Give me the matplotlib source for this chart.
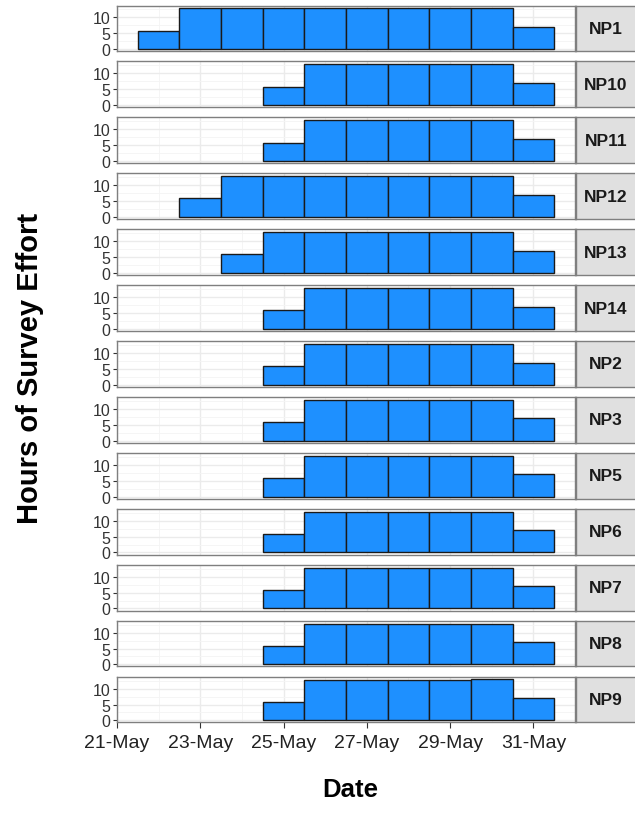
import matplotlib
matplotlib.use("Agg")
import matplotlib.pyplot as plt
from matplotlib.ticker import MultipleLocator

plt.rcParams['font.family'] = ['Liberation Sans', 'DejaVu Sans']

# Day of month (May) for each bar
days = [22, 23, 24, 25, 26, 27, 28, 29, 30, 31]
tick_days = [21, 23, 25, 27, 29, 31]
tick_labels = ["21-May", "23-May", "25-May", "27-May", "29-May", "31-May"]

sites = ["NP1", "NP10", "NP11", "NP12", "NP13", "NP14", "NP2", "NP3",
         "NP5", "NP6", "NP7", "NP8", "NP9"]

# Hours of survey effort per day (0 = no survey)
NP1 = [5.8, 12.8, 12.8, 12.8, 12.8, 12.8, 12.8, 12.8, 12.8, 7.0]
NP10 = [0, 0, 0, 5.8, 12.8, 12.8, 12.8, 12.8, 12.8, 7.0]
NP11 = [0, 0, 0, 5.8, 12.8, 12.8, 12.8, 12.8, 12.8, 7.0]
NP12 = [0, 5.8, 12.8, 12.8, 12.8, 12.8, 12.8, 12.8, 12.8, 7.0]
NP13 = [0, 0, 5.8, 12.8, 12.8, 12.8, 12.8, 12.8, 12.8, 7.0]
NP14 = [0, 0, 0, 5.8, 12.8, 12.8, 12.9, 12.9, 12.8, 7.0]
NP2 = [0, 0, 0, 5.8, 12.8, 12.8, 12.8, 12.8, 12.8, 7.0]
NP3 = [0, 0, 0, 5.8, 12.8, 12.8, 12.9, 12.8, 12.8, 7.0]
NP5 = [0, 0, 0, 5.8, 12.8, 12.8, 12.8, 12.8, 12.8, 7.0]
NP6 = [0, 0, 0, 5.8, 12.8, 12.8, 12.8, 12.8, 12.8, 7.0]
NP7 = [0, 0, 0, 5.8, 12.8, 12.8, 12.8, 12.8, 12.95, 7.0]
NP8 = [0, 0, 0, 5.8, 12.8, 12.8, 12.8, 12.8, 12.8, 7.0]
NP9 = [0, 0, 0, 5.8, 12.8, 12.8, 12.8, 12.8, 12.95, 7.0]

values = [NP1, NP10, NP11, NP12, NP13, NP14, NP2, NP3, NP5, NP6, NP7, NP8, NP9]

W, H = 635, 829
fig = plt.figure(figsize=(W / 100, H / 100), dpi=100)

left_px, right_px = 117, 575
strip_w = 60
top_px = 6.5
pitch = 55.95
ph = 45.5

border_col = "#7f7f7f"
grid_col = "#ebebeb"

for i, (site, vals) in enumerate(zip(sites, values)):
    y0 = top_px + i * pitch
    ax = fig.add_axes([left_px / W, 1 - (y0 + ph) / H, (right_px - left_px) / W, ph / H])
    xs = [d for d, v in zip(days, vals) if v > 0]
    hs = [v for v in vals if v > 0]
    ax.bar(xs, hs, width=1.0, color="#1e90ff", edgecolor="#1a1a1a", linewidth=1.0, zorder=3)
    ax.set_xlim(21, 32)
    ax.set_ylim(-0.66, 13.75)
    ax.set_yticks([0, 5, 10])
    ax.yaxis.set_minor_locator(MultipleLocator(2.5))
    ax.set_xticks(tick_days)
    ax.set_xticks([22, 24, 26, 28, 30, 32], minor=True)
    ax.grid(True, which="major", color=grid_col, linewidth=1.0, zorder=0)
    ax.grid(True, which="minor", color="#f4f4f4", linewidth=0.6, zorder=0)
    ax.set_axisbelow(True)
    for s in ax.spines.values():
        s.set_color(border_col)
        s.set_linewidth(1.0)
    ax.tick_params(axis="y", which="major", labelsize=11.5, length=3, width=0.8,
                   color="#333333", labelcolor="#333333", pad=2)
    ax.tick_params(axis="both", which="minor", length=0)
    if i == len(sites) - 1:
        ax.set_xticklabels(tick_labels)
        ax.tick_params(axis="x", which="major", labelsize=14, length=4, width=0.8,
                       color="#333333", labelcolor="#222222", pad=4)
    else:
        ax.tick_params(axis="x", which="major", labelbottom=False, length=0)

    # facet strip on the right
    sax = fig.add_axes([(right_px + 1) / W, 1 - (y0 + ph) / H, strip_w / W, ph / H])
    sax.set_facecolor("#e0e0e0")
    sax.set_xticks([])
    sax.set_yticks([])
    for s in sax.spines.values():
        s.set_color(border_col)
        s.set_linewidth(1.0)
    sax.text(0.5, 0.5, site, ha="center", va="center", fontsize=12.5,
             fontweight="bold", color="#1a1a1a", transform=sax.transAxes)

fig.text(30 / W, 1 - 368 / H, "Hours of Survey Effort", rotation=90, ha="center",
         va="center", fontsize=21, fontweight="bold", color="black")
fig.text(350 / W, 1 - 790 / H, "Date", ha="center", va="center", fontsize=18.5,
         fontweight="bold", color="black")

fig.savefig("out.png", dpi=100, facecolor="white")
